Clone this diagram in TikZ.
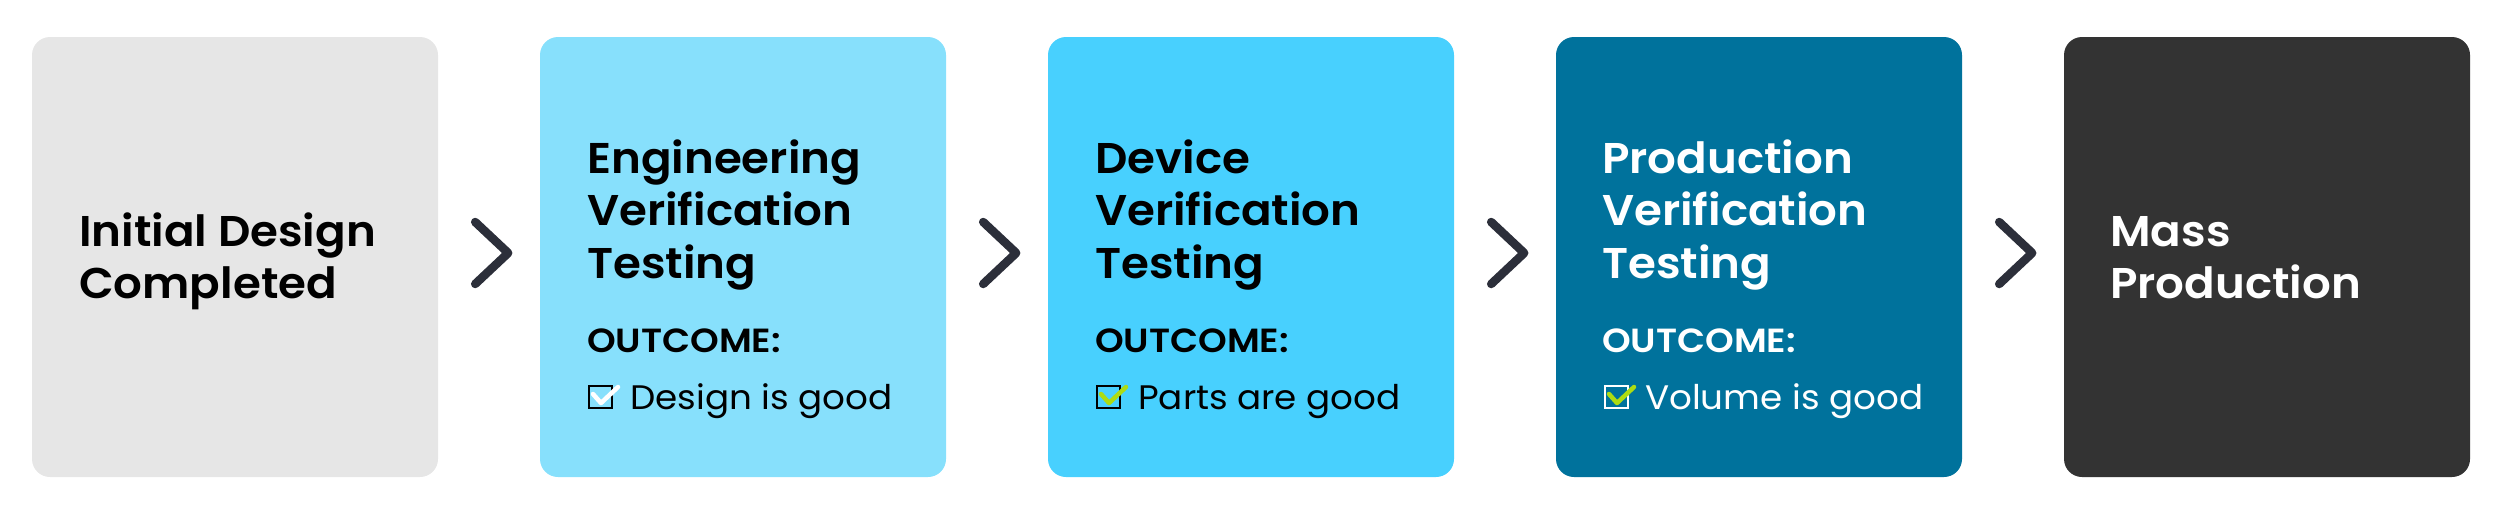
\documentclass[tikz,border=0pt]{standalone}
\usepackage{fontspec}
\setmainfont{Poppins}
\newfontfamily\headfont{Poppins SemiBold}[FakeStretch=1.05]
\newfontfamily\outfont{Poppins SemiBold}[FakeStretch=1.09]
\newfontfamily\bodyfont{Poppins}[FakeStretch=1.05]
\definecolor{cgray}{HTML}{E6E6E6}
\definecolor{clight}{HTML}{87E0FC}
\definecolor{cmid}{HTML}{48D0FE}
\definecolor{cdeep}{HTML}{00729C}
\definecolor{cdark}{HTML}{333333}
\definecolor{cchev}{HTML}{2C2F3A}
\definecolor{clime}{HTML}{ADDC12}
\tikzset{
  stage/.style={rounded corners=18pt, minimum width=406pt, minimum height=440pt, inner sep=0pt, draw=none},
  headline/.style={anchor=base west, inner sep=0pt, font=\headfont\fontsize{43}{52}\selectfont},
  outlabel/.style={anchor=base west, inner sep=0pt, font=\outfont\fontsize{33.5}{40}\selectfont},
  itemlabel/.style={anchor=base west, inner sep=0pt, font=\bodyfont\fontsize{34}{40}\selectfont},
  chev/.style={draw=cchev, line width=8.5pt, line cap=round, line join=round},
  tickbox/.style={line width=2pt},
  tickmark/.style={line width=4.5pt, line cap=round, line join=round},
}
\begin{document}
\begin{tikzpicture}[x=1pt,y=-1pt]
\useasboundingbox (0,0) rectangle (2500,507);
% stages
\node[stage, fill=cgray]  (s1) at (235,257)  {};
\node[stage, fill=clight] (s2) at (743,257)  {};
\node[stage, fill=cmid]   (s3) at (1251,257) {};
\node[stage, fill=cdeep]  (s4) at (1759,257) {};
\node[stage, fill=cdark]  (s5) at (2267,257) {};
% chevrons
\foreach \a in {s1,s2,s3,s4}{
  \draw[chev] ([xshift=37pt,yshift=35pt]\a.east) -- ([xshift=70pt,yshift=4pt]\a.east) -- ([xshift=37pt,yshift=-27pt]\a.east);
}
% stage 1
\node[headline, text=black] (t1a) at (79,246) {Initial Design};
\node[headline, text=black] (t1b) at (79,298) {Completed};
% stage 2
\node[headline, text=black] (t2a) at (587,173) {Engineering};
\node[headline, text=black] (t2b) at (587,225.5) {Verification};
\node[headline, text=black] (t2c) at (587,278) {Testing};
\node[outlabel, text=black] (o2) at (587,352) {OUTCOME:};
\node[itemlabel, text=black] (i2) at (630,409) {Design is good};
\draw[tickbox, draw=black] (589,386) rectangle (612,408);
\draw[tickmark, draw=white] (593,394) -- (601,403) -- (618,387);
% stage 3
\node[headline, text=black] (t3a) at (1095,173) {Device};
\node[headline, text=black] (t3b) at (1095,225.5) {Verification};
\node[headline, text=black] (t3c) at (1095,278) {Testing};
\node[outlabel, text=black] (o3) at (1095,352) {OUTCOME:};
\node[itemlabel, text=black] (i3) at (1138,409) {Parts are good};
\draw[tickbox, draw=black] (1097,386) rectangle (1120,408);
\draw[tickmark, draw=clime] (1101,394) -- (1109,403) -- (1126,387);
% stage 4
\node[headline, text=white] (t4a) at (1602,173) {Production};
\node[headline, text=white] (t4b) at (1602,225.5) {Verification};
\node[headline, text=white] (t4c) at (1602,278) {Testing};
\node[outlabel, text=white] (o4) at (1602,352) {OUTCOME:};
\node[itemlabel, text=white] (i4) at (1645,409) {Volume is good};
\draw[tickbox, draw=white] (1605,386) rectangle (1628,408);
\draw[tickmark, draw=clime] (1609,394) -- (1617,403) -- (1634,387);
% stage 5
\node[headline, text=white] (t5a) at (2110,246) {Mass};
\node[headline, text=white] (t5b) at (2110,298) {Production};
\end{tikzpicture}
\end{document}
